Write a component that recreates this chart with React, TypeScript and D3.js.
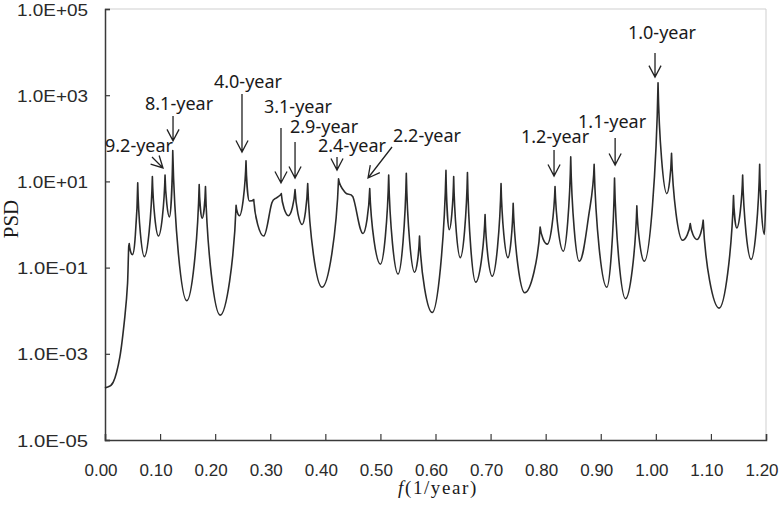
import { useEffect, useRef } from 'react'
import * as d3 from 'd3'

const width = 781
const height = 517
const margin = { top: 9, right: 15, bottom: 77, left: 105 }
const innerWidth = width - margin.left - margin.right
const innerHeight = height - margin.top - margin.bottom

// spectrum: frequency (1/year) and PSD
const freqs = [
  0.000, 0.015, 0.027, 0.036, 0.041, 0.043, 0.044, 0.0497, 0.0545, 0.0594,
  0.0715, 0.086, 0.097, 0.109, 0.117, 0.123, 0.1485, 0.171, 0.1764, 0.1824,
  0.209, 0.238, 0.244, 0.256, 0.262, 0.270, 0.288, 0.303, 0.312, 0.320,
  0.333, 0.345, 0.358, 0.368, 0.394, 0.424, 0.436, 0.450, 0.4685, 0.4806,
  0.500, 0.515, 0.532, 0.547, 0.562, 0.571, 0.594, 0.619, 0.625, 0.633,
  0.645, 0.658, 0.673, 0.690, 0.703, 0.719, 0.7315, 0.741, 0.762, 0.790,
  0.803, 0.817, 0.832, 0.8455, 0.861, 0.879, 0.888, 0.911, 0.925, 0.945,
  0.9655, 0.979, 1.004, 1.020, 1.0285, 1.0485, 1.0625, 1.0745, 1.086, 1.115,
  1.141, 1.147, 1.1576, 1.173, 1.1885, 1.197, 1.200
]
const psd = [
  1.6e-4, 2.2e-4, 8.5e-4, 7.2e-3, 0.044, 0.30, 0.36, 0.20, 0.45, 9.3,
  0.18, 13, 0.54, 14, 1.5, 52, 0.017, 8.5, 1.4, 7.6,
  0.0079, 2.8, 1.6, 30, 3.5, 3.8, 0.54, 3.2, 4.2, 5.2,
  1.6, 6.5, 1.0, 8.9, 0.035, 11.5, 5.5, 4.4, 0.62, 6.8,
  0.12, 14, 0.071, 15.5, 0.078, 0.54, 0.0091, 18, 0.76, 13,
  0.17, 16, 0.046, 1.7, 0.063, 8.9, 0.17, 3.1, 0.026, 0.87,
  0.35, 7.6, 0.24, 37, 0.14, 1.9, 25, 0.035, 12, 0.019,
  2.7, 0.14, 1950, 5.2, 45, 0.43, 1.05, 0.45, 1.26, 0.0115,
  4.7, 0.83, 14, 0.155, 25, 0.59, 6.3
]

const xTicks = [0, 0.1, 0.2, 0.3, 0.4, 0.5, 0.6, 0.7, 0.8, 0.9, 1.0, 1.1, 1.2]
const xTickLabels = ['0.00', '0.10', '0.20', '0.30', '0.40', '0.50', '0.60', '0.70', '0.80', '0.90', '1.00', '1.10', '1.20']
const yTicks = [1e-5, 1e-3, 1e-1, 1e1, 1e3, 1e5]
const yTickLabels = ['1.0E-05', '1.0E-03', '1.0E-01', '1.0E+01', '1.0E+03', '1.0E+05']

// annotated periods: arrow tip in data units
const peakLabels = ['9.2-year', '8.1-year', '4.0-year', '3.1-year', '2.9-year', '2.4-year', '2.2-year', '1.2-year', '1.1-year', '1.0-year']
const peakFreqs = [0.1053, 0.1235, 0.2487, 0.3195, 0.345, 0.4212, 0.4775, 0.8152, 0.9261, 0.9985]
const peakPsd = [20.5, 87, 48, 9.2, 12, 18.4, 12, 13.3, 24, 2630]
// arrow tail and label offsets (px) from the tip
const arrowTail = [[-11, -11], [0, -25], [0, -58], [0, -55], [0, -36], [0, -13], [24, -31], [0, -26], [0, -27], [0, -24]]
const labelPos = [[-24, -16], [6, -31], [6, -64], [17, -70], [29, -45], [15, -18], [59, -36], [1, -33], [-3, -37], [7, -38]]

// sharp tops, rounded troughs - like a spectrum of narrow peaks on a log axis
function curvePeaks(context: any) {
  let xs: number[] = []
  let ys: number[] = []
  return {
    areaStart() {},
    areaEnd() {},
    lineStart() { xs = []; ys = [] },
    point(x: number, y: number) { xs.push(+x); ys.push(+y) },
    lineEnd() {
      const n = xs.length
      if (!n) return
      // 1 = local max (smaller screen y), -1 = local min
      const kind = (i: number) => {
        if (i === 0 || i === n - 1) return 0
        if (ys[i] < ys[i - 1] && ys[i] < ys[i + 1]) return 1
        if (ys[i] > ys[i - 1] && ys[i] > ys[i + 1]) return -1
        return 0
      }
      const slope = (i: number) => {
        const a = Math.max(0, i - 1)
        const b = Math.min(n - 1, i + 1)
        return (ys[b] - ys[a]) / (xs[b] - xs[a])
      }
      const clamp = (v: number, a: number, b: number) => Math.max(Math.min(a, b), Math.min(Math.max(a, b), v))
      context.moveTo(xs[0], ys[0])
      for (let i = 0; i < n - 1; i++) {
        const x0 = xs[i], y0 = ys[i], x1 = xs[i + 1], y1 = ys[i + 1]
        const dx = x1 - x0, dy = y1 - y0
        let c1x, c1y, c2x, c2y
        const ka = kind(i), kb = kind(i + 1)
        if (ka === 1) { c1x = x0 + dx * 0.12; c1y = y0 + dy * 0.5 }
        else if (ka === -1) { c1x = x0 + dx * 0.38; c1y = y0 }
        else { c1x = x0 + dx / 3; c1y = clamp(y0 + slope(i) * dx / 3, y0, y1) }
        if (kb === 1) { c2x = x1 - dx * 0.12; c2y = y1 - dy * 0.5 }
        else if (kb === -1) { c2x = x1 - dx * 0.38; c2y = y1 }
        else { c2x = x1 - dx / 3; c2y = clamp(y1 - slope(i + 1) * dx / 3, y0, y1) }
        context.bezierCurveTo(c1x, c1y, c2x, c2y, x1, y1)
      }
    }
  }
}

const App = () => {
  const svgRef = useRef<SVGSVGElement>(null)

  useEffect(() => {
    const svg = d3.select(svgRef.current)
    svg.selectAll('*').remove()

    const x = d3.scaleLinear().domain([0, 1.2]).range([0, innerWidth])
    const y = d3.scaleLog().domain([1e-5, 1e5]).range([innerHeight, 0])

    const g = svg.append('g').attr('transform', `translate(${margin.left},${margin.top})`)

    // light frame on top and right
    g.append('path')
      .attr('d', `M0,0H${innerWidth}V${innerHeight}`)
      .attr('fill', 'none')
      .attr('stroke', '#cfcfcf')
      .attr('stroke-width', 1)

    const xAxis = d3.axisBottom(x).tickValues(xTicks).tickSize(-6).tickPadding(24)
      .tickFormat((d, i) => xTickLabels[i])
    const yAxis = d3.axisLeft(y).tickValues(yTicks).tickSize(-5).tickPadding(17)
      .tickFormat((d, i) => yTickLabels[i])

    const gx = g.append('g').attr('transform', `translate(0,${innerHeight})`).call(xAxis)
    const gy = g.append('g').call(yAxis)

    for (const ax of [gx, gy]) {
      ax.select('.domain').attr('stroke', '#3a3a3a').attr('stroke-width', 1.5)
      ax.selectAll('.tick line').attr('stroke', '#3a3a3a').attr('stroke-width', 1.2)
      ax.selectAll('.tick text')
        .attr('fill', '#2a2a2a')
        .style('font-family', '"Liberation Sans", Arial, sans-serif')
        .style('font-size', '17px')
    }
    gx.selectAll('.tick text').attr('dx', -4.5)
    gy.selectAll('.tick text').attr('dy', '0.36em')
      .attr('textLength', 71).attr('lengthAdjust', 'spacingAndGlyphs')

    const points = freqs.map((f, i) => [f, psd[i]] as [number, number])
    const line = d3.line<[number, number]>()
      .x(d => x(d[0]))
      .y(d => y(d[1]))
      .curve(curvePeaks as any)

    g.append('path')
      .datum(points)
      .attr('d', line)
      .attr('fill', 'none')
      .attr('stroke', '#2b2b2b')
      .attr('stroke-width', 1.6)
      .attr('stroke-linejoin', 'round')

    // annotations
    peakLabels.forEach((label, i) => {
      const tx = x(peakFreqs[i])
      const ty = y(peakPsd[i])
      const sx = tx + arrowTail[i][0]
      const sy = ty + arrowTail[i][1]
      const ang = Math.atan2(ty - sy, tx - sx)
      const headLen = 13
      const spread = Math.PI / 6.5
      const a1 = ang + Math.PI - spread
      const a2 = ang + Math.PI + spread
      g.append('path')
        .attr('d', `M${sx},${sy}L${tx},${ty}M${tx + headLen * Math.cos(a1)},${ty + headLen * Math.sin(a1)}L${tx},${ty}L${tx + headLen * Math.cos(a2)},${ty + headLen * Math.sin(a2)}`)
        .attr('fill', 'none')
        .attr('stroke', '#222')
        .attr('stroke-width', 1.3)
      g.append('text')
        .attr('x', tx + labelPos[i][0])
        .attr('y', ty + labelPos[i][1])
        .attr('text-anchor', 'middle')
        .attr('fill', '#1a1a1a')
        .style('font-family', '"Noto Sans", "Open Sans", sans-serif')
        .style('font-size', '18px')
        .text(label)
    })

    // axis titles
    svg.append('text')
      .attr('transform', `translate(18,${margin.top + 210}) rotate(-90)`)
      .attr('text-anchor', 'middle')
      .attr('fill', '#1a1a1a')
      .style('font-family', '"Liberation Serif", "DejaVu Serif", serif')
      .style('font-size', '21px')
      .text('PSD')

    const title = svg.append('text')
      .attr('x', 438)
      .attr('y', 494)
      .attr('text-anchor', 'middle')
      .attr('fill', '#1a1a1a')
      .style('font-family', '"Liberation Serif", "DejaVu Serif", serif')
      .style('font-size', '19px')
      .style('letter-spacing', '1.6px')
    title.append('tspan').style('font-style', 'italic').text('f')
    title.append('tspan').text('(1/year)')
  }, [])

  return (
    <svg
      ref={svgRef}
      width={width}
      height={height}
      style={{ position: 'absolute', left: 0, top: 0, background: '#fff' }}
    />
  )
}

export default App
